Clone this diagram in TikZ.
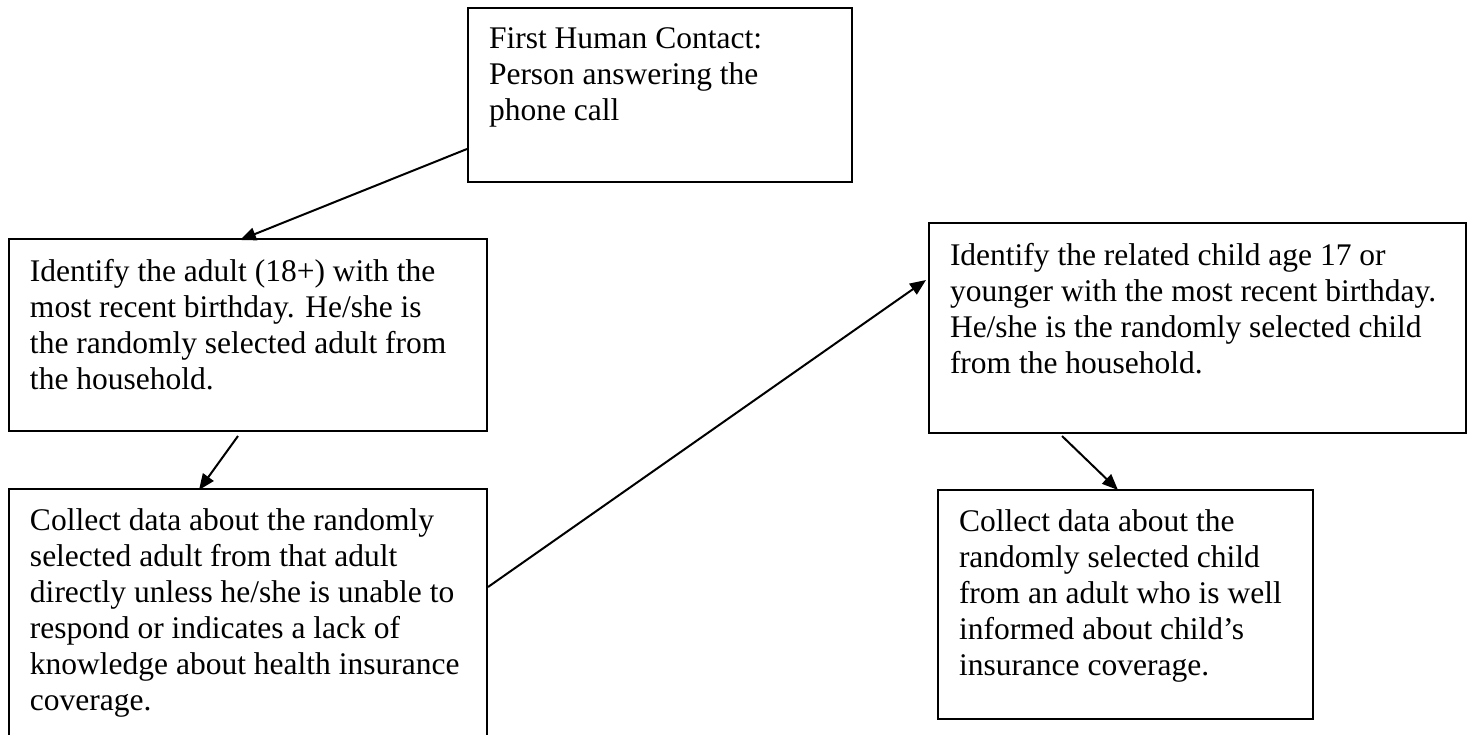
\documentclass[tikz,border=0pt]{standalone}
\usepackage{fontspec}
\setmainfont{Liberation Serif}
\usetikzlibrary{arrows.meta,calc}
\newcommand\bxt[3]{\parbox[c][#2][t]{#1}{#3}}
\newcommand\lnx[1]{\hbox to\hsize{#1\hss}}
\begin{document}
\begin{tikzpicture}[x=0.5pt,y=-0.5pt,
  box/.style={draw, line width=1pt, anchor=north west, inner xsep=10.5pt, inner ysep=10pt,
    font=\fontsize{15.75}{18}\selectfont},
  arr/.style={line width=1pt, -{Triangle[length=8pt,width=6.5pt]}}]
\useasboundingbox (0,0) rectangle (1468,734);
\clip (0,0) rectangle (1468,734);
\node[box] (b1) at (467,7) {\bxt{171pt}{67pt}{\lnx{First Human Contact:}\lnx{Person answering the}\lnx{phone call}}};
\node[box] (b2) at (8,238) {\bxt{218pt}{76pt}{\lnx{Identify the adult (18+) with the}\lnx{most recent birthday. He/she is}\lnx{the randomly selected adult from}\lnx{the household.}}};
\node[box] (b3) at (8,488) {\bxt{218pt}{116pt}{\lnx{Collect data about the randomly}\lnx{selected adult from that adult}\lnx{directly unless he/she is unable to}\lnx{respond or indicates a lack of}\lnx{knowledge about health insurance}\lnx{coverage.}}};
\node[box] (b4) at (928,222) {\bxt{247.5pt}{85pt}{\lnx{Identify the related child age 17 or}\lnx{younger with the most recent birthday.}\lnx{He/she is the randomly selected child}\lnx{from the household.}}};
\node[box] (b5) at (937,489) {\bxt{166.5pt}{94.5pt}{\lnx{Collect data about the}\lnx{randomly selected child}\lnx{from an adult who is well}\lnx{informed about child’s}\lnx{insurance coverage.}}};
\draw[arr] ($(b1.south west)+(0,-34)$) -- ($(b2.north west)+(232,2)$);
\draw[arr] ($(b2.south west)+(230,4)$) -- ($(b3.north west)+(191,2)$);
\draw[arr] ($(b3.north east)+(0,99)$) -- ($(b4.north west)+(-2,58)$);
\draw[arr] ($(b4.south west)+(134,2)$) -- ($(b5.north west)+(181,1)$);
\end{tikzpicture}
\end{document}
